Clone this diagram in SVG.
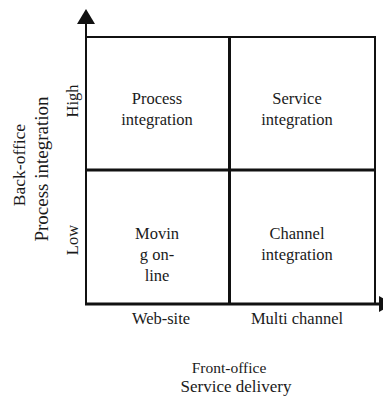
<svg xmlns="http://www.w3.org/2000/svg" width="383" height="397" viewBox="0 0 383 397">
<style>
text{font-family:"Liberation Serif","Times New Roman",serif;fill:#1a1a1a;text-anchor:middle}
.c{font-size:16.5px}
.ln{stroke:#111;fill:none}
</style>
<rect width="383" height="397" fill="#fff"/>
<g id="connectors">
<line class="ln" x1="86" y1="305" x2="86" y2="20" stroke-width="2"/>
<polygon points="86,9 77,24 95,24" fill="#111"/>
<line class="ln" x1="85" y1="304" x2="381" y2="304" stroke-width="3"/>
<polygon points="379,296 379,312 394,304" fill="#111"/>
<line class="ln" x1="85" y1="37" x2="376" y2="37" stroke-width="2"/>
<line class="ln" x1="86" y1="170" x2="376" y2="170" stroke-width="3"/>
<line class="ln" x1="229.5" y1="37" x2="229.5" y2="304" stroke-width="3"/>
<line class="ln" x1="375" y1="36" x2="375" y2="304" stroke-width="2"/>
</g>
<g id="process-integration"><text class="c" x="157" y="104">Process</text><text class="c" x="157" y="125">integration</text></g>
<g id="service-integration"><text class="c" x="297" y="104">Service</text><text class="c" x="297" y="125">integration</text></g>
<g id="moving-online"><text class="c" x="157" y="239">Movin</text><text class="c" x="157" y="260">g on-</text><text class="c" x="157" y="281">line</text></g>
<g id="channel-integration"><text class="c" x="297" y="239">Channel</text><text class="c" x="297" y="260">integration</text></g>
<g id="x-labels"><text class="c" x="161" y="324">Web-site</text><text class="c" x="297" y="324">Multi channel</text></g>
<g id="x-title"><text x="229" y="373" font-size="15.5">Front-office</text><text x="236" y="392" font-size="17">Service delivery</text></g>
<g id="y-labels"><text class="c" transform="translate(78,101) rotate(-90)">High</text><text class="c" transform="translate(78,240) rotate(-90)">Low</text></g>
<g id="y-title"><text font-size="17.5" transform="translate(25,165) rotate(-90)">Back-office</text><text font-size="19" transform="translate(48,169) rotate(-90)">Process integration</text></g>
</svg>
